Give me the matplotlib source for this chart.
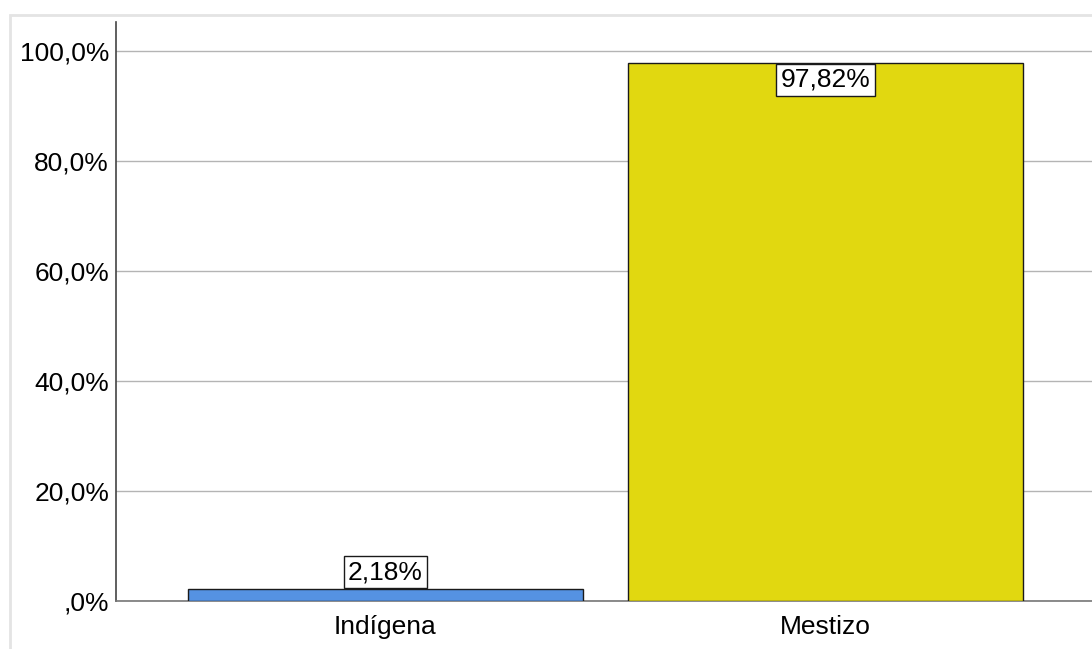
import matplotlib
matplotlib.use("Agg")
import matplotlib.pyplot as plt
from matplotlib.patches import Rectangle
from matplotlib.ticker import FuncFormatter

categories = ["Indígena", "Mestizo"]
percents = [2.18, 97.82]
bar_colors = ["#5592E2", "#E1D810"]
y_ticks = [0, 20, 40, 60, 80, 100]

plt.rcParams["font.family"] = ["Liberation Sans", "DejaVu Sans"]

fig = plt.figure(figsize=(10.92, 6.49), dpi=100)
fig.patch.set_facecolor("white")

# light frame round the chart area (runs off the right and bottom edges)
fig.patches.append(Rectangle((9.5 / 1092, -0.1), 1.2, (649 - 14.5) / 649 + 0.1,
                             transform=fig.transFigure, fill=False,
                             edgecolor="#e4e4e4", linewidth=2, clip_on=False))

ax = fig.add_axes([116 / 1092, 48 / 649, 979 / 1092, 579 / 649])
x = list(range(len(categories)))
ax.bar(x, percents, width=395 / 440, color=bar_colors, edgecolor="#1a1a1a",
       linewidth=1.0, zorder=3)

ax.set_xlim(-0.6125, 1.6125)
ax.set_ylim(0, 579 / 110 * 20)
ax.set_yticks(y_ticks)


def pct(v, pos=None):
    s = ("%.1f%%" % v).replace(".", ",")
    return s.lstrip("0") if v == 0 else s


ax.yaxis.set_major_formatter(FuncFormatter(pct))
ax.set_xticks(x)
ax.set_xticklabels(categories)
ax.tick_params(axis="both", length=0, labelsize=19, colors="black")
ax.tick_params(axis="y", pad=5)
ax.tick_params(axis="x", pad=10)

ax.grid(axis="y", color="#b4b4b4", linewidth=1.0, zorder=0)
for s in ["top", "right"]:
    ax.spines[s].set_visible(False)
ax.spines["left"].set_color("#444444")
ax.spines["bottom"].set_color("#777777")
ax.spines["left"].set_linewidth(1.2)
ax.spines["bottom"].set_linewidth(1.2)

for xi, v in zip(x, percents):
    label = ("%.2f%%" % v).replace(".", ",")
    if v > 10:
        off, va = -3.5, "top"
    else:
        off, va = 3.5, "bottom"
    ax.annotate(label, (xi, v), xytext=(0, off), textcoords="offset points",
                ha="center", va=va, fontsize=19, zorder=5,
                bbox=dict(boxstyle="square,pad=0.16", facecolor="white",
                          edgecolor="#1a1a1a", linewidth=1.0))

fig.savefig("out.png", dpi=100)
